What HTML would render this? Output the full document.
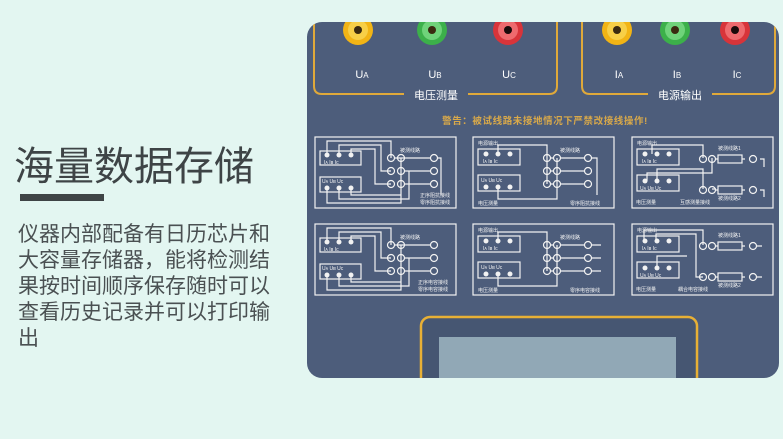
<!DOCTYPE html>
<html><head><meta charset="utf-8">
<style>
html,body{margin:0;padding:0}
body{width:783px;height:439px;background:#e3f6f1;position:relative;overflow:hidden;font-family:"Liberation Sans","Noto Sans CJK SC",sans-serif}
.t{position:absolute;left:14px;top:134px;font-size:40px;color:#3e4446;letter-spacing:0px;white-space:nowrap}
.bar{position:absolute;left:20px;top:194px;width:84px;height:7px;background:#3e4446}
.p{position:absolute;left:18px;top:222px;width:262px;font-size:21px;line-height:26px;color:#4a5052}
svg{position:absolute;left:0;top:0}
</style></head><body>
<div class="t">海量数据存储</div>
<div class="bar"></div>
<div class="p">仪器内部配备有日历芯片和<br>大容量存储器，能将检测结<br>果按时间顺序保存随时可以<br>查看历史记录并可以打印输<br>出</div>
<svg width="783" height="439" viewBox="0 0 783 439" font-family="Liberation Sans, Noto Sans CJK SC, sans-serif">
<defs>
<clipPath id="pc"><rect x="307" y="22" width="472" height="356" rx="15"/></clipPath>
</defs>
<rect x="307" y="22" width="472" height="356" rx="15" fill="#4d5d7b"/>
<g clip-path="url(#pc)">
<!-- brackets -->
<path d="M314 10 V86 Q314 94 322 94 H404 M468 94 H549 Q557 94 557 86 V10" fill="none" stroke="#e0a93a" stroke-width="2"/>
<path d="M582 10 V86 Q582 94 590 94 H648 M712 94 H767 Q775 94 775 86 V10" fill="none" stroke="#e0a93a" stroke-width="2"/>
<text x="436" y="99" font-size="11" fill="#fff" text-anchor="middle">电压测量</text>
<text x="680" y="99" font-size="11" fill="#fff" text-anchor="middle">电源输出</text>
<!-- jacks -->
<g>
<circle cx="358" cy="30" r="15" fill="#f2b415"/><circle cx="358" cy="30" r="10" fill="#f7cf47"/><circle cx="358" cy="30" r="4" fill="#3a2a10"/>
<circle cx="432" cy="30" r="15" fill="#3cb04a"/><circle cx="432" cy="30" r="10" fill="#6fd37a"/><circle cx="432" cy="30" r="4" fill="#3a2a10"/>
<circle cx="508" cy="30" r="15" fill="#d8343a"/><circle cx="508" cy="30" r="10" fill="#ee6a6e"/><circle cx="508" cy="30" r="4" fill="#1a0a0a"/>
<circle cx="617" cy="30" r="15" fill="#f2b415"/><circle cx="617" cy="30" r="10" fill="#f7cf47"/><circle cx="617" cy="30" r="4" fill="#3a2a10"/>
<circle cx="675" cy="30" r="15" fill="#3cb04a"/><circle cx="675" cy="30" r="10" fill="#6fd37a"/><circle cx="675" cy="30" r="4" fill="#3a2a10"/>
<circle cx="735" cy="30" r="15" fill="#d8343a"/><circle cx="735" cy="30" r="10" fill="#ee6a6e"/><circle cx="735" cy="30" r="4" fill="#1a0a0a"/>
</g>
<g font-size="11" fill="#fff" text-anchor="middle">
<text x="362" y="78">U<tspan font-size="8">A</tspan></text>
<text x="435" y="78">U<tspan font-size="8">B</tspan></text>
<text x="509" y="78">U<tspan font-size="8">C</tspan></text>
<text x="619" y="78">I<tspan font-size="8">A</tspan></text>
<text x="677" y="78">I<tspan font-size="8">B</tspan></text>
<text x="737" y="78">I<tspan font-size="8">C</tspan></text>
</g>
<text x="545" y="124" font-size="9.5" fill="#d9a94a" text-anchor="middle" font-weight="bold" letter-spacing="0.6">警告：被试线路未接地情况下严禁改接线操作!</text>

<!-- diagram template A (left column) -->
<g fill="none" stroke="#f2f2f2" stroke-width="1.2">
 <g transform="translate(315,137)">
  <rect x="0" y="0" width="141" height="71"/>
  <rect x="5" y="14" width="41" height="14"/><rect x="5" y="40" width="41" height="15"/>
  <path d="M12 18 V4 H76 V21 M24 18 V8 H66 V34 H76 M36 18 V12 H60 V47 H76 M12 51 V66 H86 V21 M24 51 V62 H94 V34 M36 51 V58 H86 V47 M80 21 H115 M90 34 H115 M90 47 H115 M123 21 H126 V58"/>
  <circle cx="76" cy="21" r="3.5"/><circle cx="86" cy="21" r="3.5"/><circle cx="76" cy="34" r="3.5"/><circle cx="86" cy="34" r="3.5"/><circle cx="76" cy="47" r="3.5"/><circle cx="86" cy="47" r="3.5"/>
  <circle cx="119" cy="21" r="3.5"/><circle cx="119" cy="34" r="3.5"/><circle cx="119" cy="47" r="3.5"/>
 </g>
 <g transform="translate(315,224)">
  <rect x="0" y="0" width="141" height="71"/>
  <rect x="5" y="14" width="41" height="14"/><rect x="5" y="40" width="41" height="15"/>
  <path d="M12 18 V4 H76 V21 M24 18 V8 H66 V34 H76 M36 18 V12 H60 V47 H76 M12 51 V66 H86 V21 M24 51 V62 H94 V34 M36 51 V58 H86 V47 M80 21 H115 M90 34 H115 M90 47 H115"/>
  <circle cx="76" cy="21" r="3.5"/><circle cx="86" cy="21" r="3.5"/><circle cx="76" cy="34" r="3.5"/><circle cx="86" cy="34" r="3.5"/><circle cx="76" cy="47" r="3.5"/><circle cx="86" cy="47" r="3.5"/>
  <circle cx="119" cy="21" r="3.5"/><circle cx="119" cy="34" r="3.5"/><circle cx="119" cy="47" r="3.5"/>
 </g>
 <!-- template B (middle) -->
 <g transform="translate(473,137)">
  <rect x="0" y="0" width="141" height="71"/>
  <rect x="5" y="12" width="42" height="16"/><rect x="5" y="38" width="42" height="16"/>
  <path d="M25 17 V8 H74 V47 M84 21 V47 M78 21 H80 M78 34 H80 M78 47 H80 M25 50 V62 H84 V47 M88 21 H111 M88 34 H111 M88 47 H111 M119 21 H124 V58"/>
  <circle cx="74" cy="21" r="3.5"/><circle cx="84" cy="21" r="3.5"/><circle cx="74" cy="34" r="3.5"/><circle cx="84" cy="34" r="3.5"/><circle cx="74" cy="47" r="3.5"/><circle cx="84" cy="47" r="3.5"/>
  <circle cx="115" cy="21" r="3.5"/><circle cx="115" cy="34" r="3.5"/><circle cx="115" cy="47" r="3.5"/>
 </g>
 <g transform="translate(473,224)">
  <rect x="0" y="0" width="141" height="71"/>
  <rect x="5" y="12" width="42" height="16"/><rect x="5" y="38" width="42" height="16"/>
  <path d="M25 17 V8 H74 V47 M84 21 V47 M78 21 H80 M78 34 H80 M78 47 H80 M25 50 V62 H84 V47 M88 21 H111 M88 34 H111 M88 47 H111 M119 21 H128 M119 34 H128 M119 47 H128"/>
  <circle cx="74" cy="21" r="3.5"/><circle cx="84" cy="21" r="3.5"/><circle cx="74" cy="34" r="3.5"/><circle cx="84" cy="34" r="3.5"/><circle cx="74" cy="47" r="3.5"/><circle cx="84" cy="47" r="3.5"/>
  <circle cx="115" cy="21" r="3.5"/><circle cx="115" cy="34" r="3.5"/><circle cx="115" cy="47" r="3.5"/>
 </g>
 <!-- template C (right) -->
 <g transform="translate(632,137)">
  <rect x="0" y="0" width="141" height="71"/>
  <rect x="5" y="12" width="42" height="16"/><rect x="5" y="38" width="42" height="16"/>
  <path d="M20 17 V8 H71 V21 M15 44 V36 H80 V21 M25 44 V32 H71 V52 M80 52 H84 M84 22 H86 M110 22 H113 M84 53 H86 M110 53 H113 M128 22 H132 V30 M128 53 H132 V60"/>
  <circle cx="71" cy="22" r="3.5"/><circle cx="80" cy="22" r="3.5"/><circle cx="71" cy="53" r="3.5"/><circle cx="80" cy="53" r="3.5"/>
  <rect x="86" y="18" width="24" height="8"/><rect x="86" y="49" width="24" height="8"/>
  <circle cx="121" cy="22" r="3.5"/><circle cx="121" cy="53" r="3.5"/>
 </g>
 <g transform="translate(632,224)">
  <rect x="0" y="0" width="141" height="71"/>
  <rect x="5" y="12" width="42" height="16"/><rect x="5" y="38" width="42" height="16"/>
  <path d="M12 17 V6 H71 V21 M24 17 V10 H64 V53 H71 M25 44 V32 H55 M84 22 H86 M110 22 H113 M84 53 H86 M110 53 H113 M125 22 H130 M125 53 H130"/>
  <circle cx="71" cy="22" r="3.5"/><circle cx="80" cy="22" r="3.5"/><circle cx="71" cy="53" r="3.5"/><circle cx="80" cy="53" r="3.5"/>
  <rect x="86" y="18" width="24" height="8"/><rect x="86" y="49" width="24" height="8"/>
  <circle cx="121" cy="22" r="3.5"/><circle cx="121" cy="53" r="3.5"/>
 </g>
</g>
<!-- dots -->
<g fill="#f2f2f2">
 <circle cx="327" cy="155" r="2.5"/><circle cx="339" cy="155" r="2.5"/><circle cx="351" cy="155" r="2.5"/>
 <circle cx="327" cy="188" r="2.5"/><circle cx="339" cy="188" r="2.5"/><circle cx="351" cy="188" r="2.5"/>
 <circle cx="327" cy="242" r="2.5"/><circle cx="339" cy="242" r="2.5"/><circle cx="351" cy="242" r="2.5"/>
 <circle cx="327" cy="275" r="2.5"/><circle cx="339" cy="275" r="2.5"/><circle cx="351" cy="275" r="2.5"/>
 <circle cx="486" cy="154" r="2.5"/><circle cx="498" cy="154" r="2.5"/><circle cx="510" cy="154" r="2.5"/>
 <circle cx="486" cy="187" r="2.5"/><circle cx="498" cy="187" r="2.5"/><circle cx="510" cy="187" r="2.5"/>
 <circle cx="486" cy="241" r="2.5"/><circle cx="498" cy="241" r="2.5"/><circle cx="510" cy="241" r="2.5"/>
 <circle cx="486" cy="274" r="2.5"/><circle cx="498" cy="274" r="2.5"/><circle cx="510" cy="274" r="2.5"/>
 <circle cx="645" cy="154" r="2.5"/><circle cx="657" cy="154" r="2.5"/><circle cx="669" cy="154" r="2.5"/>
 <circle cx="645" cy="181" r="2.5"/><circle cx="657" cy="181" r="2.5"/><circle cx="669" cy="181" r="2.5"/>
 <circle cx="645" cy="241" r="2.5"/><circle cx="657" cy="241" r="2.5"/><circle cx="669" cy="241" r="2.5"/>
 <circle cx="645" cy="268" r="2.5"/><circle cx="657" cy="268" r="2.5"/><circle cx="669" cy="268" r="2.5"/>
</g>
<g font-size="5" fill="#f2f2f2">
 <text x="324" y="164">Iᴀ  Iʙ  Iᴄ</text><text x="322" y="183">Uᴀ Uʙ Uᴄ</text>
 <text x="324" y="251">Iᴀ  Iʙ  Iᴄ</text><text x="322" y="270">Uᴀ Uʙ Uᴄ</text>
 <text x="400" y="152">被测线路</text><text x="400" y="239">被测线路</text>
 <text x="420" y="197">正序阻抗接线</text><text x="420" y="204">零序阻抗接线</text>
 <text x="418" y="284">正序电容接线</text><text x="418" y="291">零序电容接线</text>
 <text x="478" y="145">电源输出</text><text x="478" y="232">电源输出</text>
 <text x="483" y="163">Iᴀ  Iʙ  Iᴄ</text><text x="481" y="182">Uᴀ Uʙ Uᴄ</text>
 <text x="483" y="250">Iᴀ  Iʙ  Iᴄ</text><text x="481" y="269">Uᴀ Uʙ Uᴄ</text>
 <text x="478" y="205">电压测量</text><text x="478" y="292">电压测量</text>
 <text x="560" y="152">被测线路</text><text x="560" y="239">被测线路</text>
 <text x="570" y="205">零序阻抗接线</text><text x="570" y="292">零序电容接线</text>
 <text x="637" y="145">电源输出</text><text x="637" y="232">电源输出</text>
 <text x="642" y="163">Iᴀ  Iʙ  Iᴄ</text><text x="640" y="190">Uᴀ Uʙ Uᴄ</text>
 <text x="642" y="250">Iᴀ  Iʙ  Iᴄ</text><text x="640" y="277">Uᴀ Uʙ Uᴄ</text>
 <text x="636" y="204">电压测量</text><text x="680" y="204">互感测量接线</text>
 <text x="636" y="291">电压测量</text><text x="678" y="291">耦合电容接线</text>
 <text x="718" y="150">被测线路1</text><text x="718" y="200">被测线路2</text>
 <text x="718" y="237">被测线路1</text><text x="718" y="287">被测线路2</text>
</g>
<!-- screen -->
<rect x="421" y="317" width="276" height="80" rx="9" fill="#465672" stroke="#e8b035" stroke-width="2.5"/>
<rect x="439" y="337" width="237" height="50" fill="#91a8b6"/>
</g>
</svg>
</body></html>
